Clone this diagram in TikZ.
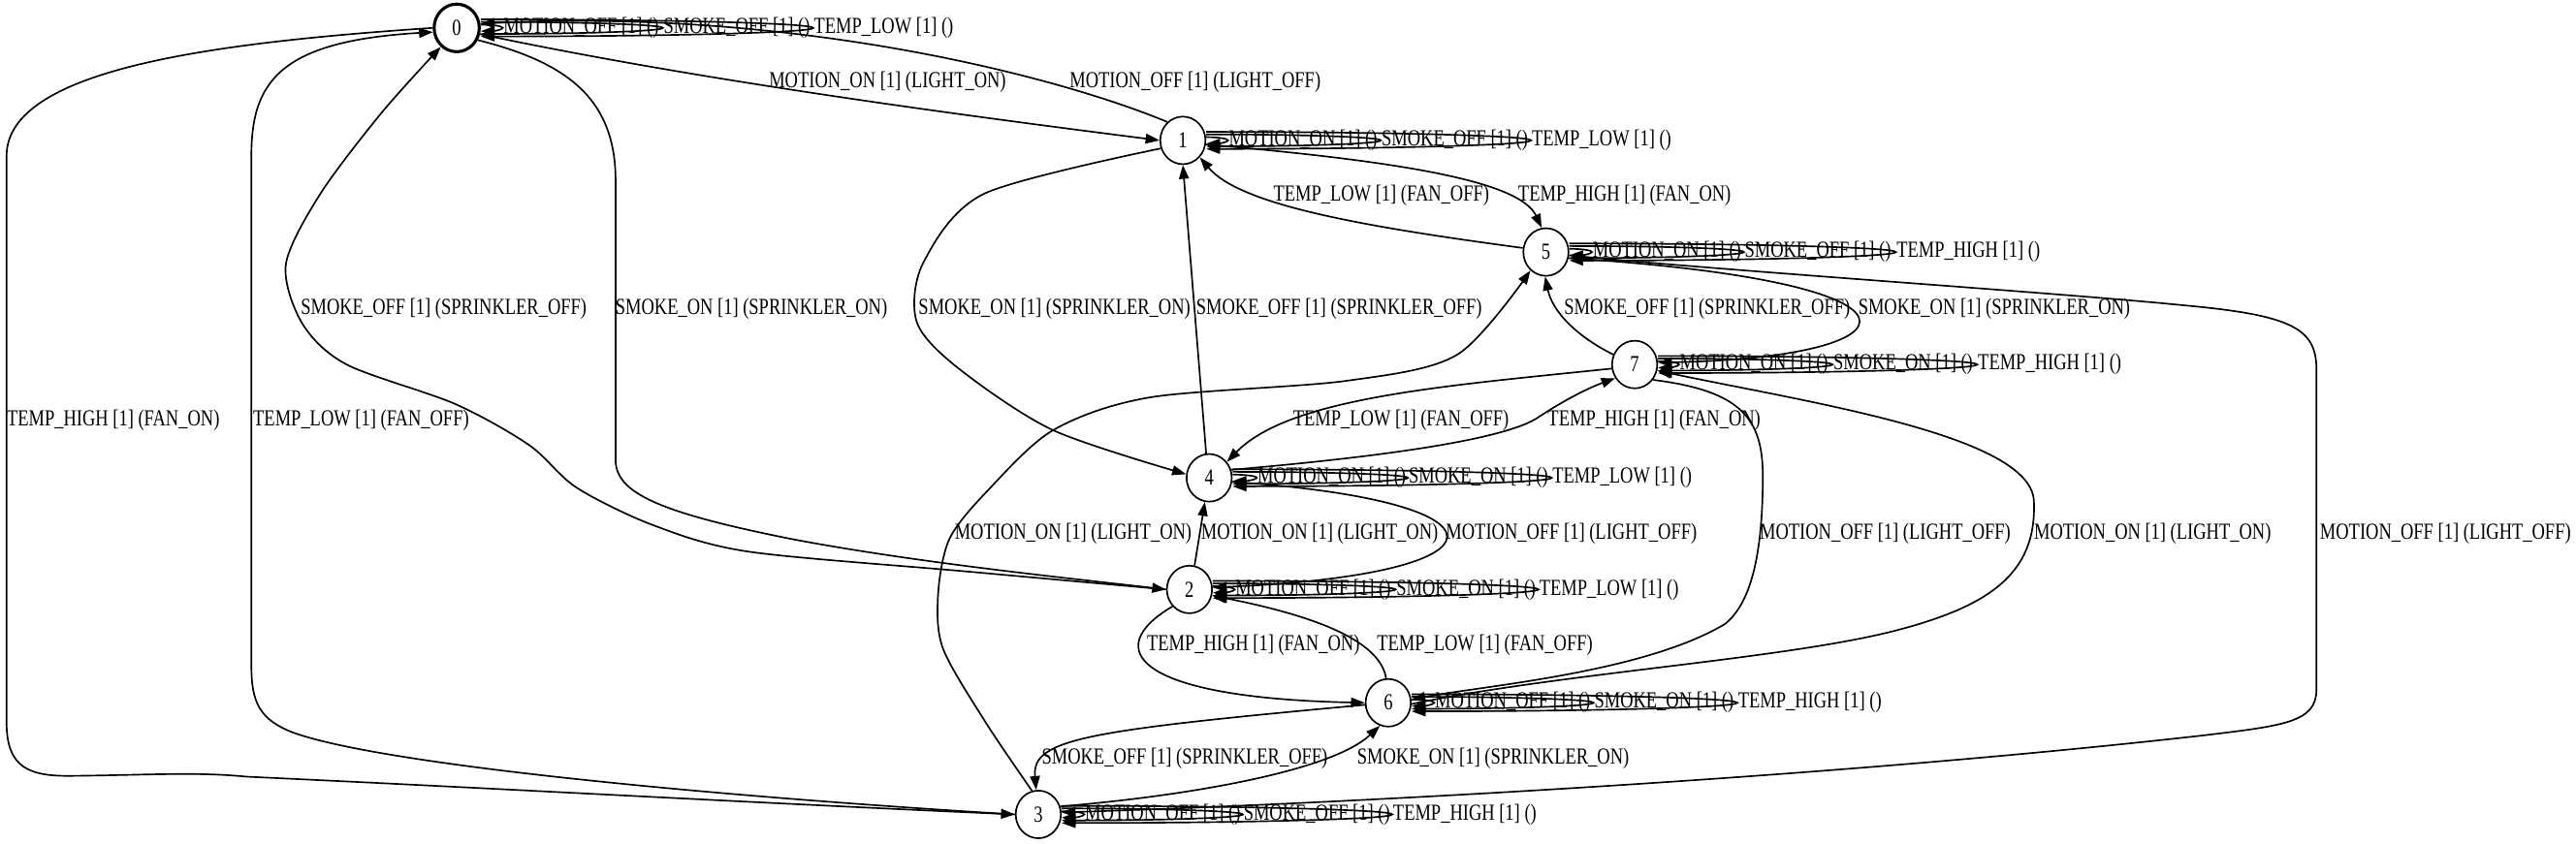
\documentclass[tikz,border=0pt]{standalone}
\usepackage{fontspec}
\setmainfont[FakeStretch=0.78]{Liberation Serif}
\usepackage{tikz}
\usetikzlibrary{shapes.geometric,arrows.meta,calc}
\tikzset{
  state/.style={ellipse, draw=black, line width=1.4pt, minimum width=1.375cm,
                minimum height=1.45cm, inner sep=0pt,
                font=\fontsize{19.9}{22}\selectfont},
  init/.style={state, line width=2.6pt},
  trans/.style={-{Triangle[length=12pt,width=8.5pt]}, line width=1.4pt},
  lbl/.style={inner sep=0pt, anchor=west, font=\fontsize{19.9}{22}\selectfont}
}
\newcommand{\selfloop}[5]{%
  \draw[trans] let \p1 = (#1.east), \p2 = (#3,0) in
    (\x1, \y1+#4pt) .. controls +(0.55*\x2-0.55*\x1, 0pt) and +(0pt, 0.55*#4pt) ..
    (\x2, \y1) node[lbl] (#1#2) {#5}
    .. controls +(0pt, -0.55*#4pt) and +(0.55*\x2-0.55*\x1, 0pt) .. (\x1, \y1-#4pt);
}

\begin{document}
\begin{tikzpicture}[x=0.05cm, y=-0.05cm]
\useasboundingbox (0,0) rectangle (1568,514);
\path[fill=white] (0,0) rectangle (1568,514);

\node[init]  (n0) at (278,17)    {0};
\node[state] (n1) at (720,85.5)  {1};
\node[state] (n5) at (941,153.5) {5};
\node[state] (n7) at (995,222)   {7};
\node[state] (n4) at (736,291)   {4};
\node[state] (n2) at (724,359)   {2};
\node[state] (n6) at (845,428)   {6};
\node[state] (n3) at (632,496)   {3};

\selfloop{n0}{a}{306}{2.8}{MOTION\_OFF [1] ()}
\selfloop{n0}{b}{403.5}{5.2}{SMOKE\_OFF [1] ()}
\selfloop{n0}{c}{495}{7.4}{TEMP\_LOW [1] ()}
\selfloop{n1}{a}{747.5}{2.8}{MOTION\_ON [1] ()}
\selfloop{n1}{b}{840.5}{5.2}{SMOKE\_OFF [1] ()}
\selfloop{n1}{c}{932}{7.4}{TEMP\_LOW [1] ()}
\selfloop{n5}{a}{969}{2.8}{MOTION\_ON [1] ()}
\selfloop{n5}{b}{1061.5}{5.2}{SMOKE\_OFF [1] ()}
\selfloop{n5}{c}{1154}{7.4}{TEMP\_HIGH [1] ()}
\selfloop{n7}{a}{1022}{2.8}{MOTION\_ON [1] ()}
\selfloop{n7}{b}{1115.5}{5.2}{SMOKE\_ON [1] ()}
\selfloop{n7}{c}{1203.5}{7.4}{TEMP\_HIGH [1] ()}
\selfloop{n4}{a}{765}{2.8}{MOTION\_ON [1] ()}
\selfloop{n4}{b}{857}{5.2}{SMOKE\_ON [1] ()}
\selfloop{n4}{c}{944.5}{7.4}{TEMP\_LOW [1] ()}
\selfloop{n2}{a}{751.5}{2.8}{MOTION\_OFF [1] ()}
\selfloop{n2}{b}{849.5}{5.2}{SMOKE\_ON [1] ()}
\selfloop{n2}{c}{936.5}{7.4}{TEMP\_LOW [1] ()}
\selfloop{n6}{a}{873}{2.8}{MOTION\_OFF [1] ()}
\selfloop{n6}{b}{970}{5.2}{SMOKE\_ON [1] ()}
\selfloop{n6}{c}{1057.5}{7.4}{TEMP\_HIGH [1] ()}
\selfloop{n3}{a}{660}{2.8}{MOTION\_OFF [1] ()}
\selfloop{n3}{b}{756.5}{5.2}{SMOKE\_OFF [1] ()}
\selfloop{n3}{c}{847.5}{7.4}{TEMP\_HIGH [1] ()}

\draw[trans] (n0.-15) .. controls (430,50) and (600,72) .. (n1.west);
\draw[trans] (n1.130) .. controls (640,45) and (480,5) .. (n0.10);
\draw[trans] (n0.-30) .. controls (345,38) and (374.7,60) .. (374.7,110) -- (374.7,280)
  .. controls (374.7,300) and (400,312) .. (483,328.5)
  .. controls (560,343) and (650,352) .. (n2.west);
\draw[trans] plot[smooth] coordinates {(n2.west) (588,348) (456,336) (398,320) (351,297)
  (322,271) (277,246) (211,222) (184,197) (174,161) (195,118) (232,69) (n0.-130)};
\draw[trans] (n0.west) .. controls (130,26) and (4,42) .. (4,95) -- (4,440)
  .. controls (4,468) and (18,473) .. (45,472.5)
  .. controls (90,472) and (120,470) .. (150,473)
  .. controls (300,480) and (460,489) .. (n3.west);
\draw[trans] (n3.west) .. controls (420,484) and (230,465) .. (178,446)
  .. controls (158,438) and (153,428) .. (153,405) -- (153,95)
  .. controls (153,50) and (170,25) .. (n0.-170);
\draw[trans] plot[smooth] coordinates {(n1.-160) (599,118) (562,160) (558,196) (583,224)
  (641,262) (n4.171)};
\draw[trans] (n4.97) -- (n1.south);
\draw[trans] (n1.-10) .. controls (850,98) and (925,110) .. (n5.100);
\draw[trans] (n5.170) .. controls (830,138) and (755,125) .. (n1.-45);
\draw[trans] (n5.-15) .. controls (1190,172) and (1170,218) .. (n7.5);
\draw[trans] (n7.155) .. controls (960,205) and (945,190) .. (n5.-92);
\draw[trans] (n5.-8) .. controls (1050,165) and (1250,178) .. (1330,186)
  .. controls (1395,192) and (1410,200) .. (1410,225) -- (1410,420)
  .. controls (1410,440) and (1390,442) .. (1340,448)
  .. controls (1100,475) and (800,490) .. (n3.5);
\draw[trans] plot[smooth] coordinates {(n3.105) (600,440) (574,395) (571,362) (578,328)
  (601,299) (641,262) (700,242) (819,232) (887,216) (n5.-130)};
\draw[trans] (n7.-170) .. controls (880,235) and (785,242) .. (n4.42);
\draw[trans] (n4.20) .. controls (820,280) and (910,270) .. (935,255)
  .. controls (950,245) and (965,237) .. (n7.-145);
\draw[trans] (n2.78) -- (n4.-100);
\draw[trans] (n4.-10) .. controls (925,305) and (925,350) .. (n2.5);
\draw[trans] (n2.-135) .. controls (670,395) and (690,425) .. (n6.west);
\draw[trans] (n6.95) .. controls (840,390) and (800,375) .. (n2.-15);
\draw[trans] (n7.-40) .. controls (1060,238) and (1073,255) .. (1073,290)
  .. controls (1073,340) and (1065,368) .. (1050,380)
  .. controls (1000,410) and (900,418) .. (n6.8);
\draw[trans] (n6.-3) .. controls (950,410) and (1080,402) .. (1150,385)
  .. controls (1210,370) and (1240,350) .. (1238,305)
  .. controls (1236,265) and (1100,245) .. (n7.-15);
\draw[trans] (n6.-175) .. controls (660,445) and (628,450) .. (n3.95);
\draw[trans] (n3.20) .. controls (720,485) and (810,470) .. (n6.-110);

\node[lbl] (l01) at (468,50)   {MOTION\_ON [1] (LIGHT\_ON)};
\node[lbl] (l10) at (651,50)   {MOTION\_OFF [1] (LIGHT\_OFF)};
\node[lbl] (l51) at (775,119)  {TEMP\_LOW [1] (FAN\_OFF)};
\node[lbl] (l15) at (924,119)  {TEMP\_HIGH [1] (FAN\_ON)};
\node[lbl] (l20) at (183,188)  {SMOKE\_OFF [1] (SPRINKLER\_OFF)};
\node[lbl] (l02) at (374.5,188) {SMOKE\_ON [1] (SPRINKLER\_ON)};
\node[lbl] (l14) at (559,188)  {SMOKE\_ON [1] (SPRINKLER\_ON)};
\node[lbl] (l41) at (728,188)  {SMOKE\_OFF [1] (SPRINKLER\_OFF)};
\node[lbl] (l75) at (952,188)  {SMOKE\_OFF [1] (SPRINKLER\_OFF)};
\node[lbl] (l57) at (1131,188) {SMOKE\_ON [1] (SPRINKLER\_ON)};
\node[lbl] (l03) at (4,256)    {TEMP\_HIGH [1] (FAN\_ON)};
\node[lbl] (l30) at (154,256)  {TEMP\_LOW [1] (FAN\_OFF)};
\node[lbl] (l74) at (787,256)  {TEMP\_LOW [1] (FAN\_OFF)};
\node[lbl] (l47) at (942,256)  {TEMP\_HIGH [1] (FAN\_ON)};
\node[lbl] (l35) at (581,325)  {MOTION\_ON [1] (LIGHT\_ON)};
\node[lbl] (l24) at (731,325)  {MOTION\_ON [1] (LIGHT\_ON)};
\node[lbl] (l42) at (880,325)  {MOTION\_OFF [1] (LIGHT\_OFF)};
\node[lbl] (l76) at (1071,325) {MOTION\_OFF [1] (LIGHT\_OFF)};
\node[lbl] (l67) at (1238,325) {MOTION\_ON [1] (LIGHT\_ON)};
\node[lbl] (l53) at (1412,325) {MOTION\_OFF [1] (LIGHT\_OFF)};
\node[lbl] (l26) at (698,393)  {TEMP\_HIGH [1] (FAN\_ON)};
\node[lbl] (l62) at (838,393)  {TEMP\_LOW [1] (FAN\_OFF)};
\node[lbl] (l63) at (634,462)  {SMOKE\_OFF [1] (SPRINKLER\_OFF)};
\node[lbl] (l36) at (826,462)  {SMOKE\_ON [1] (SPRINKLER\_ON)};
\end{tikzpicture}
\end{document}
